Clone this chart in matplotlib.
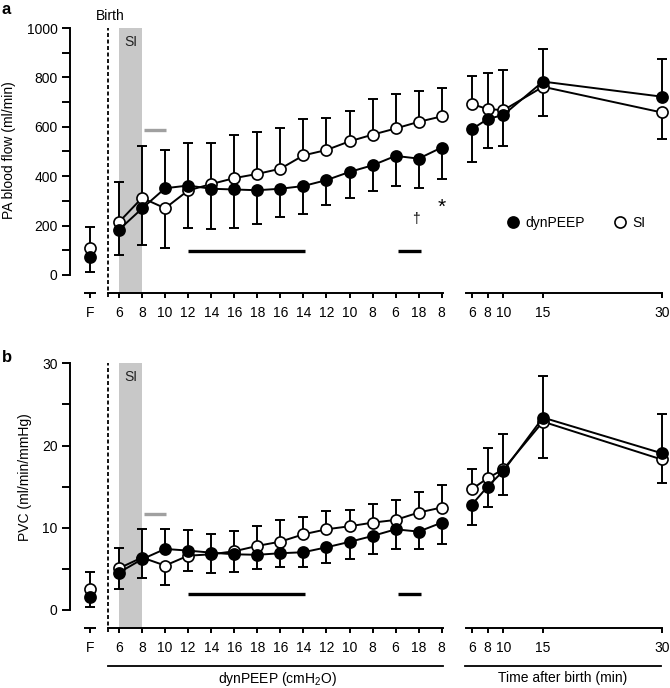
import numpy as np
import matplotlib
matplotlib.use("Agg")
import matplotlib.pyplot as plt
from matplotlib.lines import Line2D

plt.rcParams['font.family'] = ['Liberation Sans', 'DejaVu Sans']
plt.rcParams['font.size'] = 10
plt.rcParams['mathtext.fontset'] = 'custom'
plt.rcParams['mathtext.rm'] = 'Liberation Sans'
plt.rcParams['mathtext.it'] = 'Liberation Sans'
plt.rcParams['mathtext.default'] = 'regular'

# x layout of the dynPEEP part (index positions) and time part (minutes)
STEP_LABELS = ['6', '8', '10', '12', '14', '16', '18', '16', '14', '12', '10', '8', '6', '18', '8']
F_POS = -1.26
BIRTH_POS = -0.48
TIME_MIN = [6, 8, 10, 15, 30]

# panel a: PA blood flow (ml/min)
a_f_dyn, a_f_si, a_f_top, a_f_bot = 72, 108, 193, 10
a_dyn = [183, 269, 351, 362, 349, 346, 343, 349, 360, 384, 417, 444, 482, 471, 516]
a_si = [214, 312, 270, 342, 368, 392, 409, 430, 484, 506, 541, 568, 593, 620, 642]
a_top = [376, 524, 506, 533, 533, 567, 577, 597, 630, 634, 662, 712, 734, 743, 757]
a_bot = [79, 123, 111, 189, 186, 191, 208, 235, 248, 283, 312, 338, 362, 351, 389]
a_t_dyn = [590, 631, 648, 783, 722]
a_t_si = [692, 672, 667, 762, 658]
a_t_top = [807, 817, 830, 913, 875]
a_t_bot = [459, 516, 522, 644, 552]

# panel b: PVC (ml/min/mmHg)
b_f_dyn, b_f_si, b_f_top, b_f_bot = 1.6, 2.5, 4.66, 0.32
b_dyn = [4.55, 6.17, 7.42, 7.22, 6.97, 6.77, 6.71, 6.9, 7.02, 7.62, 8.28, 9.0, 9.81, 9.53, 10.62]
b_si = [5.07, 6.38, 5.4, 6.6, 6.77, 7.14, 7.79, 8.31, 9.2, 9.81, 10.18, 10.62, 10.95, 11.85, 12.46]
b_top = [7.5, 9.8, 9.85, 9.77, 9.29, 9.65, 10.26, 10.95, 11.36, 12.04, 12.17, 12.9, 13.39, 14.36, 15.21]
b_bot = [2.5, 3.93, 3.04, 4.75, 4.46, 4.67, 4.95, 5.19, 5.27, 5.76, 6.2, 6.81, 7.38, 7.46, 8.03]
b_t_dyn = [12.78, 15.0, 16.91, 23.4, 19.06]
b_t_si = [14.68, 16.02, 17.11, 22.9, 18.3]
b_t_top = [17.16, 19.75, 21.41, 28.4, 23.8]
b_t_bot = [10.34, 12.57, 13.99, 18.53, 15.4]

# significance bars (x start, x end)
SIG_GRAY = (1.1, 2.05)
SIG_BLACK = [(3.0, 8.05), (12.1, 13.1)]

W, H = 670, 688
LW = 1.4


def fx(px):
    return px / W


def fy(py):
    return 1 - py / H


def draw_pair(ax, x, dyn, si, top, bot, connect=True):
    x = np.atleast_1d(np.asarray(x, float))
    dyn = np.atleast_1d(np.asarray(dyn, float))
    si = np.atleast_1d(np.asarray(si, float))
    top = np.atleast_1d(np.asarray(top, float))
    bot = np.atleast_1d(np.asarray(bot, float))
    hi = np.maximum(dyn, si)
    lo = np.minimum(dyn, si)
    z = np.zeros_like(hi)
    kw = dict(fmt='none', ecolor='k', elinewidth=LW, capsize=3.8, capthick=LW, zorder=2, clip_on=False)
    ax.errorbar(x, hi, yerr=[z, top - hi], **kw)
    ax.errorbar(x, lo, yerr=[lo - bot, z], **kw)
    ls = '-' if connect else 'none'
    ax.plot(x, si, linestyle=ls, color='k', lw=LW, marker='o', ms=8, mfc='white', mec='k', mew=1.2, zorder=3, clip_on=False)
    ax.plot(x, dyn, linestyle=ls, color='k', lw=LW, marker='o', ms=8, mfc='k', mec='k', mew=1.2, zorder=4, clip_on=False)


def style_left(ax, ylim, ymax, major, minor, sig_y, gray_y):
    ax.set_xlim((70 - 119) / 23.05, (451 - 119) / 23.05)
    ax.set_ylim(*ylim)
    for s in ['top', 'right']:
        ax.spines[s].set_visible(False)
    ax.spines['left'].set_bounds(0, ymax)
    ax.spines['bottom'].set_bounds(BIRTH_POS, 14.05)
    for s in ['left', 'bottom']:
        ax.spines[s].set_linewidth(LW)
    ax.plot([F_POS - 0.26, F_POS + 0.26], [ylim[0], ylim[0]], color='k', lw=LW, clip_on=False,
            solid_capstyle='butt', zorder=5)
    ax.set_xticks([F_POS] + list(range(len(STEP_LABELS))))
    ax.set_xticklabels(['F'] + STEP_LABELS)
    ax.set_yticks(np.arange(0, ymax + 0.1, major))
    ax.set_yticks(np.arange(0, ymax + 0.1, minor), minor=True)
    ax.tick_params(axis='x', length=3.5, width=LW, pad=6, direction='out')
    ax.tick_params(axis='y', which='both', length=6, width=LW, pad=3)
    ax.axvspan(0, 1, color='#c8c8c8', lw=0, zorder=0)
    ax.axvline(BIRTH_POS, color='k', lw=1.3, ls=(0, (2.2, 1.4)), ymin=-0.015, clip_on=False, zorder=1)
    ax.text(0.5, ymax * 0.943, 'SI', ha='center', va='center', color='#222222')
    ax.plot(SIG_GRAY, [gray_y, gray_y], color='#a0a0a0', lw=2.4, solid_capstyle='butt')
    for x0, x1 in SIG_BLACK:
        ax.plot([x0, x1], [sig_y, sig_y], color='k', lw=2.4, solid_capstyle='butt')


def style_right(ax, ylim):
    ax.set_xlim(5.28, 30.54)
    ax.set_ylim(*ylim)
    for s in ['top', 'right', 'left']:
        ax.spines[s].set_visible(False)
    ax.spines['bottom'].set_bounds(5.28, 30.0)
    ax.spines['bottom'].set_linewidth(LW)
    ax.set_yticks([])
    ax.set_xticks(TIME_MIN)
    ax.set_xticklabels([str(t) for t in TIME_MIN])
    ax.tick_params(axis='x', length=3.5, width=LW, pad=6, direction='out')


fig = plt.figure(figsize=(W / 100, H / 100), dpi=100)

# panel a
ax_a = fig.add_axes([fx(70), fy(292.7), fx(451) - fx(70), fy(28) - fy(292.7)])
ax_at = fig.add_axes([fx(466), fy(292.7), fx(666) - fx(466), fy(28) - fy(292.7)])
ylim_a = (-72, 1000)
style_left(ax_a, ylim_a, 1000, 200, 100, 95, 587)
style_right(ax_at, ylim_a)
steps = np.arange(len(STEP_LABELS))
draw_pair(ax_a, F_POS, a_f_dyn, a_f_si, a_f_top, a_f_bot, connect=False)
draw_pair(ax_a, steps, a_dyn, a_si, a_top, a_bot)
draw_pair(ax_at, TIME_MIN, a_t_dyn, a_t_si, a_t_top, a_t_bot)
ax_a.set_ylabel('PA blood flow (ml/min)')
ax_a.yaxis.set_label_coords((16 - 70) / 381, 0.539)
ax_a.text(12.9, 225, '\u2020', ha='center', va='center', fontsize=10)
ax_a.text(14.0, 272, '*', ha='center', va='center', fontsize=15)

# panel b
ax_b = fig.add_axes([fx(70), fy(628.3), fx(451) - fx(70), fy(363.3) - fy(628.3)])
ax_bt = fig.add_axes([fx(466), fy(628.3), fx(666) - fx(466), fy(363.3) - fy(628.3)])
ylim_b = (-2.23, 30)
style_left(ax_b, ylim_b, 30, 10, 5, 1.95, 11.64)
style_right(ax_bt, ylim_b)
draw_pair(ax_b, F_POS, b_f_dyn, b_f_si, b_f_top, b_f_bot, connect=False)
draw_pair(ax_b, steps, b_dyn, b_si, b_top, b_bot)
draw_pair(ax_bt, TIME_MIN, b_t_dyn, b_t_si, b_t_top, b_t_bot)
ax_b.set_ylabel('PVC (ml/min/mmHg)')
ax_b.yaxis.set_label_coords((32 - 70) / 381, 0.571)

# legend
handles = [Line2D([], [], ls='none', marker='o', ms=8, mfc='k', mec='k', mew=1.2),
           Line2D([], [], ls='none', marker='o', ms=8, mfc='white', mec='k', mew=1.2)]
fig.legend(handles, ['dynPEEP', 'SI'], ncol=2, frameon=False, loc='center left',
           bbox_to_anchor=(fx(506), fy(223)), handlelength=1.0, handletextpad=0.4,
           columnspacing=2.0, borderpad=0, borderaxespad=0)

# labels and brackets
fig.text(fx(2), fy(10), 'a', fontweight='bold', fontsize=12, va='center', ha='left')
fig.text(fx(2), fy(357), 'b', fontweight='bold', fontsize=12, va='center', ha='left')
fig.text(fx(96), fy(16), 'Birth', va='center', ha='left')
fig.add_artist(Line2D([fx(108), fx(443)], [fy(665.5), fy(665.5)], color='k', lw=1.3))
fig.add_artist(Line2D([fx(465), fx(661)], [fy(665.5), fy(665.5)], color='k', lw=1.3))
fig.text(fx(277), fy(679), 'dynPEEP (cmH$_2$O)', ha='center', va='center')
fig.text(fx(563), fy(678), 'Time after birth (min)', ha='center', va='center')

fig.savefig('out.png', dpi=100)
